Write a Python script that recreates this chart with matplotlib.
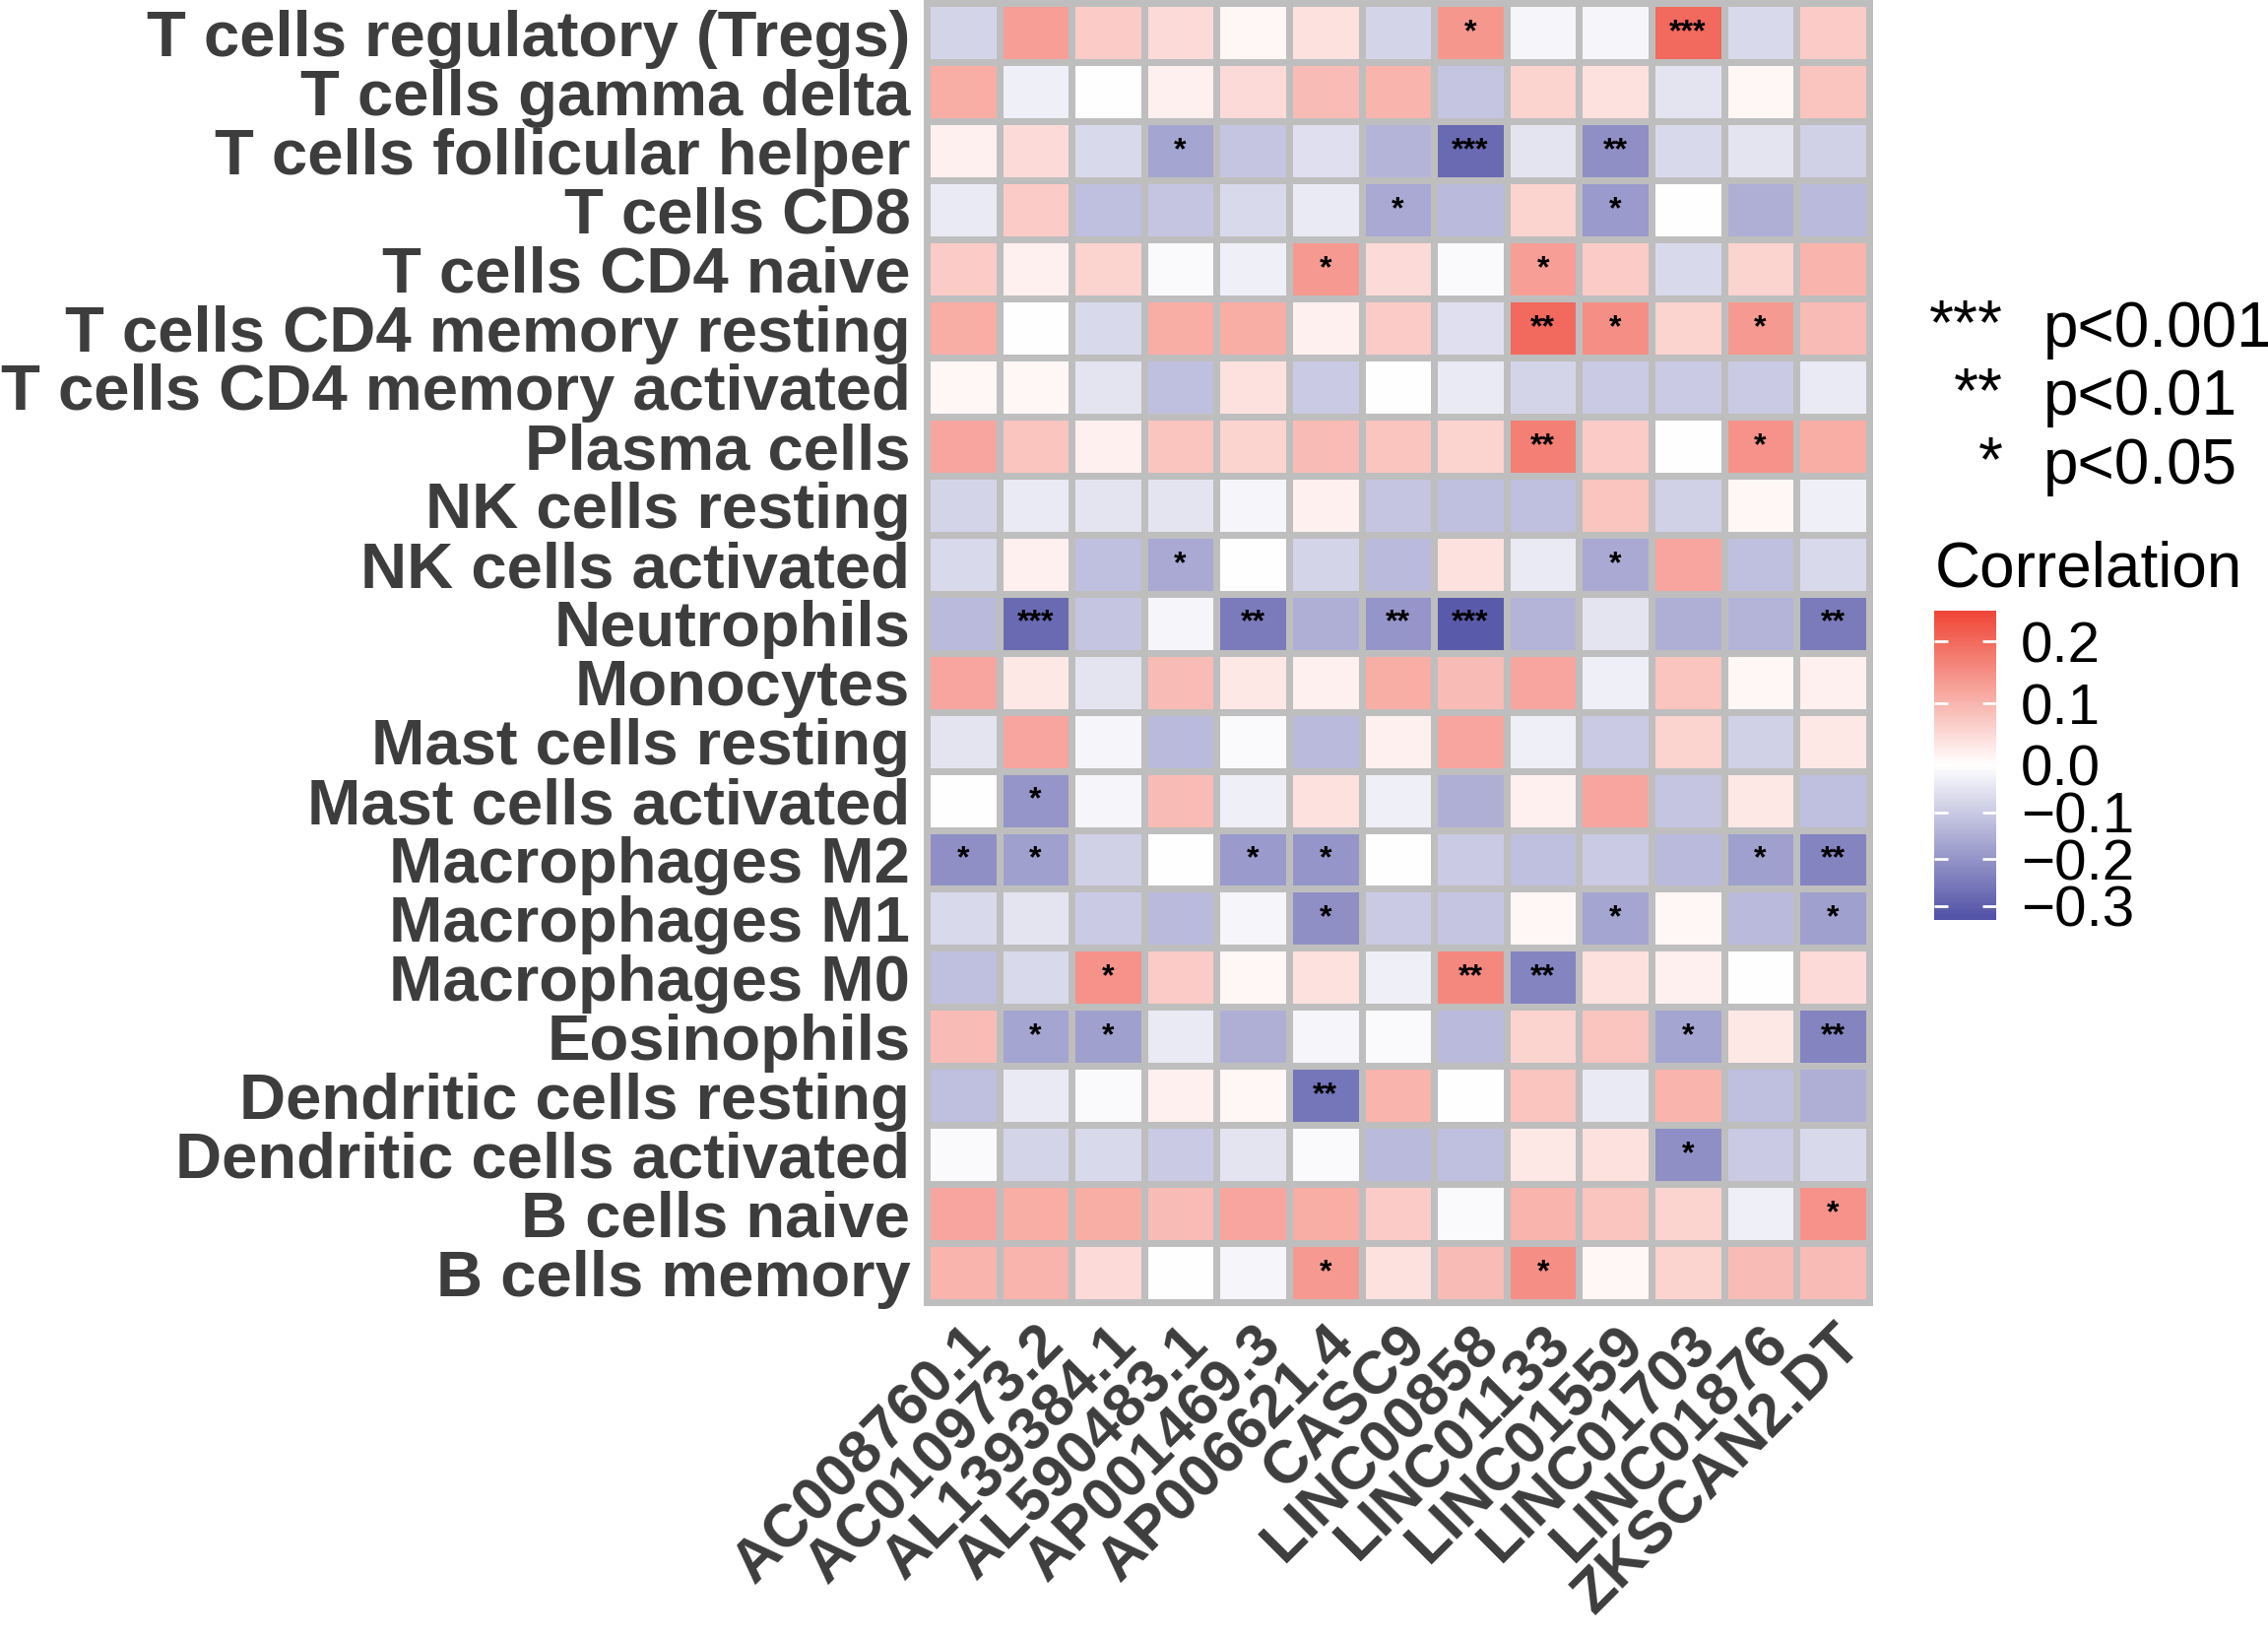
import matplotlib
matplotlib.use("Agg")
import matplotlib.pyplot as plt
import numpy as np
from matplotlib.colors import LinearSegmentedColormap, TwoSlopeNorm

plt.rcParams['font.family'] = ['Liberation Sans', 'DejaVu Sans']

# immune cell types, top to bottom as shown
cells = ['T cells regulatory (Tregs)', 'T cells gamma delta', 'T cells follicular helper',
         'T cells CD8', 'T cells CD4 naive', 'T cells CD4 memory resting',
         'T cells CD4 memory activated', 'Plasma cells', 'NK cells resting',
         'NK cells activated', 'Neutrophils', 'Monocytes', 'Mast cells resting',
         'Mast cells activated', 'Macrophages M2', 'Macrophages M1', 'Macrophages M0',
         'Eosinophils', 'Dendritic cells resting', 'Dendritic cells activated',
         'B cells naive', 'B cells memory']

genes = ['AC008760.1', 'AC010973.2', 'AL139384.1', 'AL590483.1', 'AP001469.3',
         'AP006621.4', 'CASC9', 'LINC00858', 'LINC01133', 'LINC01559', 'LINC01703',
         'LINC01876', 'ZKSCAN2.DT']

# correlation, one row per cell type
corr = [
    [-0.08, 0.13, 0.07, 0.05, 0.01, 0.04, -0.08, 0.14, -0.02, -0.02, 0.20, -0.07, 0.07],
    [0.11, -0.03, 0.00, 0.02, 0.05, 0.09, 0.10, -0.11, 0.06, 0.04, -0.05, 0.01, 0.08],
    [0.02, 0.05, -0.07, -0.17, -0.11, -0.06, -0.14, -0.28, -0.05, -0.21, -0.07, -0.05, -0.09],
    [-0.04, 0.07, -0.12, -0.11, -0.07, -0.04, -0.16, -0.13, 0.06, -0.19, 0.00, -0.15, -0.13],
    [0.07, 0.02, 0.06, -0.01, -0.03, 0.135, 0.05, -0.01, 0.13, 0.07, -0.07, 0.06, 0.10],
    [0.11, 0.00, -0.07, 0.11, 0.11, 0.02, 0.07, -0.06, 0.20, 0.15, 0.06, 0.135, 0.09],
    [0.01, 0.01, -0.05, -0.12, 0.04, -0.10, 0.00, -0.04, -0.08, -0.10, -0.10, -0.10, -0.04],
    [0.12, 0.08, 0.02, 0.08, 0.06, 0.09, 0.08, 0.06, 0.17, 0.07, 0.00, 0.145, 0.11],
    [-0.08, -0.04, -0.05, -0.05, -0.02, 0.02, -0.11, -0.12, -0.12, 0.08, -0.09, 0.01, -0.03],
    [-0.07, 0.02, -0.12, -0.16, 0.00, -0.08, -0.13, 0.04, -0.04, -0.16, 0.12, -0.12, -0.07],
    [-0.13, -0.28, -0.11, -0.02, -0.25, -0.15, -0.20, -0.31, -0.14, -0.05, -0.15, -0.14, -0.25],
    [0.12, 0.03, -0.05, 0.09, 0.03, 0.02, 0.11, 0.09, 0.12, -0.03, 0.08, 0.01, 0.02],
    [-0.05, 0.12, -0.02, -0.13, -0.01, -0.13, 0.02, 0.12, -0.03, -0.10, 0.06, -0.09, 0.03],
    [0.00, -0.20, -0.02, 0.09, -0.03, 0.04, -0.03, -0.15, 0.02, 0.12, -0.11, 0.03, -0.12],
    [-0.21, -0.18, -0.09, 0.00, -0.19, -0.20, 0.00, -0.10, -0.12, -0.10, -0.13, -0.18, -0.23],
    [-0.07, -0.05, -0.10, -0.13, -0.02, -0.21, -0.10, -0.11, 0.01, -0.17, 0.01, -0.13, -0.18],
    [-0.12, -0.07, 0.145, 0.07, 0.01, 0.04, -0.03, 0.16, -0.23, 0.04, 0.02, 0.00, 0.05],
    [0.09, -0.17, -0.18, -0.04, -0.15, -0.02, -0.01, -0.13, 0.06, 0.08, -0.17, 0.03, -0.23],
    [-0.12, -0.04, -0.01, 0.02, 0.01, -0.26, 0.10, 0.00, 0.08, -0.04, 0.10, -0.12, -0.15],
    [-0.01, -0.08, -0.07, -0.10, -0.05, -0.01, -0.13, -0.12, 0.03, 0.04, -0.21, -0.10, -0.07],
    [0.12, 0.11, 0.11, 0.09, 0.12, 0.11, 0.07, -0.01, 0.10, 0.08, 0.06, -0.03, 0.145],
    [0.10, 0.10, 0.05, 0.00, -0.02, 0.135, 0.04, 0.09, 0.15, 0.01, 0.06, 0.09, 0.09],
]

# number of stars (significance) per cell
stars = [
    [0, 0, 0, 0, 0, 0, 0, 1, 0, 0, 3, 0, 0],
    [0, 0, 0, 0, 0, 0, 0, 0, 0, 0, 0, 0, 0],
    [0, 0, 0, 1, 0, 0, 0, 3, 0, 2, 0, 0, 0],
    [0, 0, 0, 0, 0, 0, 1, 0, 0, 1, 0, 0, 0],
    [0, 0, 0, 0, 0, 1, 0, 0, 1, 0, 0, 0, 0],
    [0, 0, 0, 0, 0, 0, 0, 0, 2, 1, 0, 1, 0],
    [0, 0, 0, 0, 0, 0, 0, 0, 0, 0, 0, 0, 0],
    [0, 0, 0, 0, 0, 0, 0, 0, 2, 0, 0, 1, 0],
    [0, 0, 0, 0, 0, 0, 0, 0, 0, 0, 0, 0, 0],
    [0, 0, 0, 1, 0, 0, 0, 0, 0, 1, 0, 0, 0],
    [0, 3, 0, 0, 2, 0, 2, 3, 0, 0, 0, 0, 2],
    [0, 0, 0, 0, 0, 0, 0, 0, 0, 0, 0, 0, 0],
    [0, 0, 0, 0, 0, 0, 0, 0, 0, 0, 0, 0, 0],
    [0, 1, 0, 0, 0, 0, 0, 0, 0, 0, 0, 0, 0],
    [1, 1, 0, 0, 1, 1, 0, 0, 0, 0, 0, 1, 2],
    [0, 0, 0, 0, 0, 1, 0, 0, 0, 1, 0, 0, 1],
    [0, 0, 1, 0, 0, 0, 0, 2, 2, 0, 0, 0, 0],
    [0, 1, 1, 0, 0, 0, 0, 0, 0, 0, 1, 0, 2],
    [0, 0, 0, 0, 0, 2, 0, 0, 0, 0, 0, 0, 0],
    [0, 0, 0, 0, 0, 0, 0, 0, 0, 0, 1, 0, 0],
    [0, 0, 0, 0, 0, 0, 0, 0, 0, 0, 0, 0, 1],
    [0, 0, 0, 0, 0, 1, 0, 0, 1, 0, 0, 0, 0],
]

cbar_ticks = [-0.3, -0.2, -0.1, 0.0, 0.1, 0.2]
cbar_labels = ['\u22120.3', '\u22120.2', '\u22120.1', '0.0', '0.1', '0.2']

data = np.array(corr)
cmap = LinearSegmentedColormap.from_list('corr', ['#5050A6', '#FFFFFF', '#EF4535'])
norm = TwoSlopeNorm(vmin=-0.33, vcenter=0.0, vmax=0.25)

fig = plt.figure(figsize=(23.03, 16.63), dpi=100)
ax = fig.add_axes([0.4086, 0.205, 0.8241 - 0.4086, 0.998 - 0.205])

mesh = ax.pcolormesh(data, cmap=cmap, norm=norm, edgecolors='#BEBEBE', linewidth=5)
ax.set_xlim(0, len(genes))
ax.set_ylim(len(cells), 0)

for i in range(len(cells)):
    for j in range(len(genes)):
        if stars[i][j] > 0:
            ax.text(j + 0.5, i + 0.5, '*' * stars[i][j], ha='center', va='center',
                    fontsize=23, fontweight='bold', color='black')

ax.set_yticks(np.arange(len(cells)) + 0.5)
ax.set_yticklabels(cells, fontsize=47, fontweight='bold', color='#3D3D3D')
ax.set_xticks(np.arange(len(genes)) + 0.5)
ax.set_xticklabels(genes, fontsize=44, fontweight='bold', color='#3D3D3D',
                   rotation=45, ha='right', va='top', rotation_mode='anchor')
ax.tick_params(axis='y', length=0, pad=12)
ax.tick_params(axis='x', length=0, pad=10)
for s in ax.spines.values():
    s.set_color('#BEBEBE')
    s.set_linewidth(5)

# significance legend
leg_rows = [('***', 'p<0.001'), ('**', 'p<0.01'), ('*', 'p<0.05')]
leg_y = [335, 404, 474]
for (st, lab), y in zip(leg_rows, leg_y):
    fy = 1 - y / 1663
    fig.text(2034 / 2303, fy + 0.002, st, ha='right', va='center', fontsize=46)
    fig.text(2075 / 2303, fy, lab, ha='left', va='center', fontsize=46)

fig.text(1965 / 2303, 1 - 579 / 1663, 'Correlation', ha='left', va='center', fontsize=46)

cax = fig.add_axes([1964 / 2303, 1 - 934 / 1663, 63 / 2303, 314 / 1663])
cb = fig.colorbar(mesh, cax=cax, ticks=cbar_ticks)
cb.outline.set_visible(False)
cb.ax.tick_params(direction='in', color='white', length=10, width=2,
                  left=True, right=True, labelsize=42, pad=18)
cb.ax.set_yticklabels(cbar_labels)

fig.savefig('out.png', dpi=100)
